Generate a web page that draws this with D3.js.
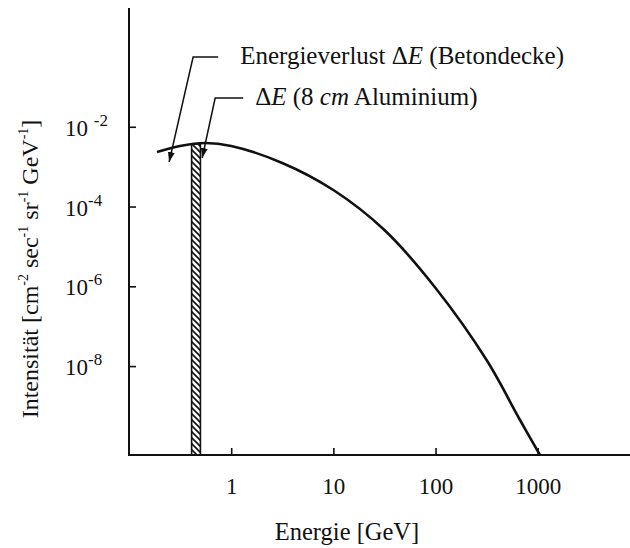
<!DOCTYPE html>
<html><head><meta charset="utf-8">
<script src="https://cdn.jsdelivr.net/npm/d3@7"></script>
<style>
body{margin:0;background:#fff;}
svg{display:block;}
svg text{font-family:"Liberation Serif","Tinos","Times New Roman","Nimbus Roman","DejaVu Serif",serif;}
</style></head>
<body><svg id="c" width="630" height="548"></svg>
<script>
// ---- data ----
const energy    = [0.188, 0.315, 0.555, 1.0, 3.16, 10, 31.6, 100, 316, 671, 1052];
const intensity = [2.33e-3, 3.30e-3, 3.92e-3, 3.30e-3, 1.24e-3, 2.60e-4, 2.58e-5, 9.1e-7, 1.42e-8, 4.45e-10, 5.9e-11];
const xTicks = [1, 10, 100, 1000];
const xTickLabels = ["1", "10", "100", "1000"];
const yTicks = [1e-2, 1e-4, 1e-6, 1e-8];
const yTickExp = ["-2", "-4", "-6", "-8"];
const barE = [0.41, 0.50];          // hatched band (8 cm Aluminium)
const barTop = 3.7e-3;
const arrow1 = [[0.746, 0.561], [0.424, 0.561], [0.247, 1.31e-3]]; // Betondecke
const arrow2 = [[1.31, 0.0527], [0.697, 0.0527], [0.52, 1.65e-3]]; // Aluminium

const svg = d3.select("#c");
const x = d3.scaleLog().domain([0.1, 8000]).range([129, 630]);
const y = d3.scaleLog().domain([5.9e-11, 9.5]).range([455, 8]);

const defs = svg.append("defs");
const pat = defs.append("pattern").attr("id","hatch").attr("patternUnits","userSpaceOnUse")
  .attr("width",6).attr("height",6);
pat.append("path").attr("d","M-1,-1 L7,7 M-1,5 L1,7 M5,-1 L7,1").attr("stroke","#111").attr("stroke-width",1.6);

// hatched bar
svg.append("rect").attr("x", x(barE[0])).attr("y", y(barTop))
  .attr("width", x(barE[1]) - x(barE[0])).attr("height", y.range()[0] - y(barTop))
  .attr("fill","url(#hatch)").attr("stroke","#111").attr("stroke-width",1.6);

// curve
const line = d3.line().x((d,i)=>x(energy[i])).y((d,i)=>y(intensity[i])).curve(d3.curveCatmullRom.alpha(0.5));
svg.append("path").datum(energy).attr("d", line).attr("fill","none").attr("stroke","#111").attr("stroke-width",2.6);

// axes
const xa = svg.append("g").attr("transform",`translate(0,${y.range()[0]})`)
  .call(d3.axisBottom(x).tickValues(xTicks).tickFormat((d,i)=>xTickLabels[i]).tickSize(-7).tickPadding(23));
xa.select(".domain").remove();
xa.attr("font-family",null);
xa.selectAll("line").attr("stroke","#111").attr("stroke-width",1.6);
xa.selectAll("text").attr("font-size",23).attr("fill","#111");
svg.append("line").attr("x1",x.range()[0]).attr("x2",630).attr("y1",y.range()[0]).attr("y2",y.range()[0])
  .attr("stroke","#111").attr("stroke-width",2);

const ya = svg.append("g").attr("transform",`translate(${x.range()[0]},0)`)
  .call(d3.axisLeft(y).tickValues(yTicks).tickFormat("").tickSize(-7));
ya.select(".domain").remove();
ya.selectAll("line").attr("stroke","#111").attr("stroke-width",1.6);
svg.append("line").attr("x1",x.range()[0]).attr("x2",x.range()[0]).attr("y1",y.range()[1]).attr("y2",y.range()[0]+1)
  .attr("stroke","#111").attr("stroke-width",2);

// y tick labels
yTicks.forEach((t,i)=>{
  const tx = svg.append("text").attr("x",65).attr("y",y(t)+9).attr("font-size",23).attr("fill","#111");
  tx.append("tspan").text(i===0 ? "10 " : "10");
  tx.append("tspan").attr("font-size",17).attr("dy",-10).text(yTickExp[i]);
});

// axis titles
svg.append("text").attr("x",347).attr("y",540).attr("text-anchor","middle").attr("font-size",24.5).attr("fill","#111").text("Energie [GeV]");
const yt = svg.append("text").attr("transform","translate(38,269) rotate(-90)").attr("text-anchor","middle")
  .attr("font-size",24).attr("fill","#111");
yt.append("tspan").text("Intensität [cm");
[["-2"," sec"],["-1"," sr"],["-1"," GeV"],["-1","]"]].forEach(p=>{
  yt.append("tspan").attr("font-size",14).attr("dy",-10).text(p[0]);
  yt.append("tspan").attr("dy",10).text(p[1]);
});

// annotation arrows
defs.append("marker").attr("id","ah").attr("viewBox","0 0 10 10").attr("refX",10).attr("refY",5)
  .attr("markerWidth",10).attr("markerHeight",10).attr("markerUnits","userSpaceOnUse").attr("orient","auto")
  .append("path").attr("d","M0,1.5 L10,5 L0,8.5 Z").attr("fill","#111");
const aline = d3.line().x(d=>x(d[0])).y(d=>y(d[1]));
[arrow1, arrow2].forEach(a=>{
  svg.append("path").attr("d", aline(a)).attr("fill","none").attr("stroke","#111").attr("stroke-width",1.5)
    .attr("marker-end","url(#ah)");
});

// annotation texts
const t1 = svg.append("text").attr("x", x(arrow1[0][0])+22).attr("y", y(arrow1[0][1])+7).attr("font-size",25).attr("fill","#111");
t1.append("tspan").text("Energieverlust ");
t1.append("tspan").text("Δ");
t1.append("tspan").attr("font-style","italic").text("E");
t1.append("tspan").text(" (Betondecke)");
const t2 = svg.append("text").attr("x", x(arrow2[0][0])+12).attr("y", y(arrow2[0][1])+7).attr("font-size",25).attr("fill","#111");
t2.append("tspan").text("Δ");
t2.append("tspan").attr("font-style","italic").text("E");
t2.append("tspan").text(" (8 ");
t2.append("tspan").attr("font-style","italic").text("cm");
t2.append("tspan").text(" Aluminium)");
</script></body></html>
